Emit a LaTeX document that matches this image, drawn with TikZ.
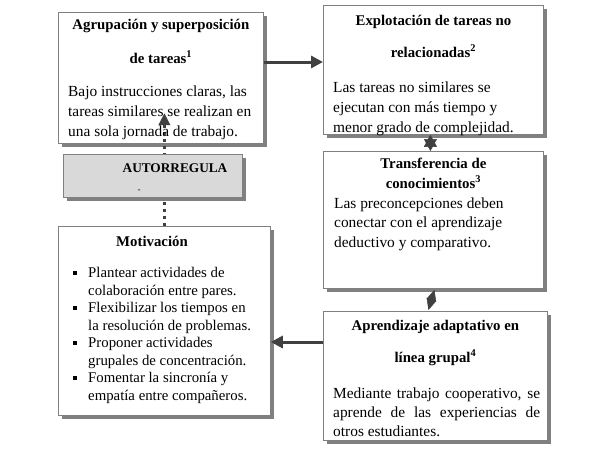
\documentclass[tikz,border=0pt]{standalone}
\usepackage{fontspec}
\setmainfont{Liberation Serif}
\usetikzlibrary{arrows.meta,shadows,calc}
\definecolor{arrowgray}{HTML}{404040}
\definecolor{bordergray}{HTML}{808080}
\definecolor{shadowgray}{HTML}{808080}
\definecolor{autofill}{HTML}{D9D9D9}
\begin{document}
\begin{tikzpicture}[x=1pt,y=-1pt,
  box/.style={draw=bordergray, line width=0.8pt, fill=white, anchor=north west, inner sep=0pt,
    drop shadow={shadow xshift=4pt, shadow yshift=-4pt, fill=shadowgray, opacity=1}},
  autobox/.style={box, fill=autofill},
  ttl/.style={font=\bfseries\fontsize{14.8}{34}\selectfont, align=center, inner sep=0pt, anchor=base},
  txt/.style={font=\fontsize{15.4}{20}\selectfont, align=left, inner sep=0pt, anchor=base west},
  lst/.style={font=\fontsize{14.8}{17.5}\selectfont, align=left, inner sep=0pt, anchor=base west},
  bul/.style={fill=black, minimum size=4pt, inner sep=0pt},
  conn/.style={draw=arrowgray, line width=3pt, -{Triangle[length=12pt,width=12pt]}},
  dbl/.style={draw=arrowgray, fill=arrowgray, line width=0.5pt, {Triangle[length=12pt,width=13pt]}-{Triangle[length=12pt,width=13pt]}},
  dia/.style={draw=arrowgray, fill=arrowgray, line width=0.5pt, {Triangle[length=11pt,width=10pt]}-{Triangle[length=11pt,width=10pt]}},
  dashconn/.style={draw=arrowgray, line width=3.5pt, dash pattern=on 3.5pt off 3.5pt, -{Triangle[length=12pt,width=11pt]}}
]
\useasboundingbox (0,0) rectangle (608,459);

% boxes
\node[box, minimum width=205pt, minimum height=131pt] (b1) at (58,12) {};
\node[box, minimum width=220pt, minimum height=129pt] (b2) at (323,5) {};
\node[box, minimum width=220pt, minimum height=137pt] (b3) at (323,151) {};
\node[box, minimum width=224pt, minimum height=129pt] (b4) at (323,311) {};
\node[box, minimum width=212pt, minimum height=189pt] (mot) at (58,226) {};

% dashed connector to box 1
\coordinate (tip) at (163,113);
\draw[dashconn] (mot.north) -- (mot.north |- tip);

\node[autobox, minimum width=179pt, minimum height=43pt] (auto) at (63,154) {};

% texts (base anchor = baseline of the last line)
\node[ttl] (t1) at (b1.north |- 0,63) {Agrupación y superposición\\de tareas\textsuperscript{1}};
\node[txt] (x1) at (68,136) {Bajo instrucciones claras, las\\tareas similares se realizan en\\una sola jornada de trabajo.};

\node[ttl, font=\bfseries\fontsize{14.8}{32}\selectfont] (t2) at (b2.north |- 0,57) {Explotación de tareas no\\relacionadas\textsuperscript{2}};
\node[txt] (x2) at (333,132) {Las tareas no similares se\\ejecutan con más tiempo y\\menor grado de complejidad.};

\node[ttl, font=\bfseries\fontsize{14.8}{19.5}\selectfont] (t3) at (b3.north |- 0,188) {Transferencia de\\conocimientos\textsuperscript{3}};
\node[txt, font=\fontsize{15.4}{19.5}\selectfont] (x3) at (334,247) {Las preconcepciones deben\\conectar con el aprendizaje\\deductivo y comparativo.};

\node[ttl, font=\bfseries\fontsize{14.8}{32}\selectfont] (t4) at (b4.north |- 0,362) {Aprendizaje adaptativo en\\línea grupal\textsuperscript{4}};
\node[txt, font=\fontsize{15.4}{19}\selectfont, align=justify, text width=207pt] (x4) at (333,398) {Mediante trabajo cooperativo, se\linebreak aprende de las experiencias de\linebreak otros estudiantes.};

\node[ttl] (t5) at (152,246) {Motivación};
\node[lst] (x5) at (88,400) {Plantear actividades de\\colaboración entre pares.\\Flexibilizar los tiempos en\\la resolución de problemas.\\Proponer actividades\\grupales de concentración.\\Fomentar la sincronía y\\empatía entre compañeros.};
\node[bul] (u1) at (75,273) {};
\node[bul] (u2) at (75,308) {};
\node[bul] (u3) at (75,343) {};
\node[bul] (u4) at (75,378) {};

\node[ttl, font=\bfseries\fontsize{13.3}{16}\selectfont] (t6) at (175,172) {AUTORREGULA};
\node[ttl, font=\fontsize{9}{10}\selectfont] (t7) at (139,192) {-};

% connectors
\coordinate (h1) at (0,62);
\draw[conn] (b1.east |- h1) -- (b2.west |- h1);
\draw[dbl] ([xshift=-3pt]b2.south) -- ([xshift=-3pt]b3.north);
\draw[dia] ([xshift=1pt,yshift=-1pt]b3.south) -- ([xshift=-7pt,yshift=1pt]b4.north);
\coordinate (h2) at (0,342);
\draw[conn] (b4.west |- h2) -- (mot.east |- h2);
\end{tikzpicture}
\end{document}
